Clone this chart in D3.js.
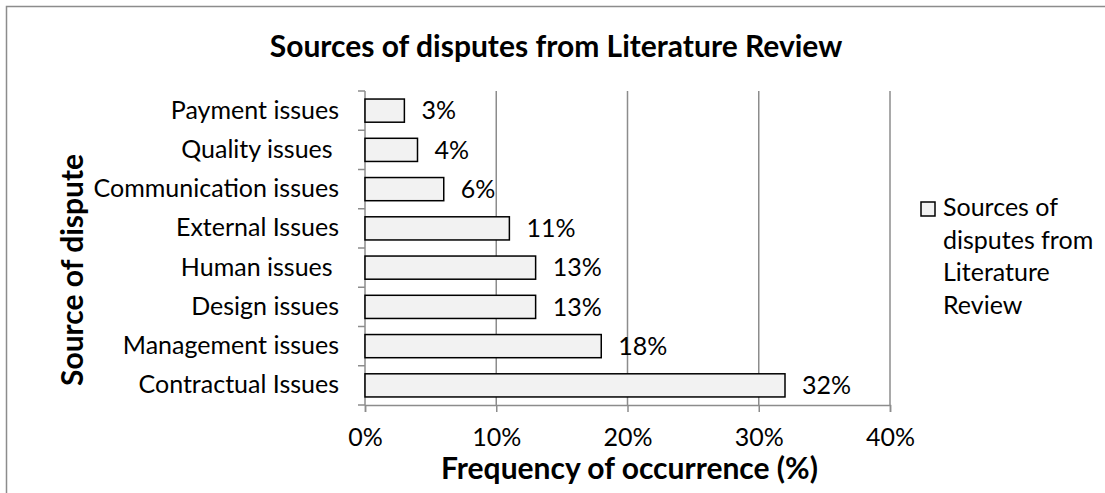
<!DOCTYPE html>
<html lang="en">
<head>
<meta charset="UTF-8">
<title>Sources of disputes</title>
<script src="https://d3js.org/d3.v7.min.js"></script>
<style>
  body { margin: 0; background: #fff; }
  text { font-family: Lato, "Open Sans", sans-serif; fill: #000; }
</style>
</head>
<body>
<div id="chart"></div>
<script>
// data, top row first
const categories = ["Payment issues", "Quality issues ", "Communication issues", "External Issues",
                    "Human issues ", "Design issues", "Management issues", "Contractual Issues"];
const values = [0.03, 0.04, 0.06, 0.11, 0.13, 0.13, 0.18, 0.32];
const xTicks = [0, 0.1, 0.2, 0.3, 0.4];
const seriesName = "Sources of disputes from Literature Review";

const W = 1105, H = 493;
const plot = { left: 365, right: 890, top: 91, bottom: 405 };

const svg = d3.select("#chart").append("svg")
    .attr("width", W).attr("height", H);

// chart area border (runs off the right / bottom edge)
svg.append("rect")
    .attr("x", 6.5).attr("y", 6.5)
    .attr("width", W + 20).attr("height", H + 20)
    .attr("fill", "#fff").attr("stroke", "#8c8c8c").attr("stroke-width", 1.5);

const x = d3.scaleLinear().domain([0, 0.4]).range([plot.left, plot.right]);
const pad = 0.41;
const y = d3.scaleBand().domain(categories)
    .range([plot.top, plot.bottom])
    .paddingInner(pad).paddingOuter(pad / 2);

// vertical gridlines
svg.append("g").selectAll("line")
    .data(xTicks.slice(1))
    .join("line")
    .attr("x1", d => x(d)).attr("x2", d => x(d))
    .attr("y1", plot.top).attr("y2", plot.bottom)
    .attr("stroke", "#8c8c8c").attr("stroke-width", 1.5);

// x axis
const xAxis = svg.append("g")
    .attr("transform", `translate(0,${plot.bottom})`)
    .call(d3.axisBottom(x).tickValues(xTicks).tickFormat(d3.format(".0%")).tickSize(7).tickPadding(16));
xAxis.select(".domain").attr("stroke", "#8c8c8c").attr("stroke-width", 1.5);
xAxis.selectAll(".tick line").attr("stroke", "#8c8c8c").attr("stroke-width", 1.5);
xAxis.selectAll(".tick text").attr("font-size", 25).attr("font-family", "Lato");

// y axis
const yAxis = svg.append("g")
    .attr("transform", `translate(${plot.left},0)`)
    .call(d3.axisLeft(y).tickSize(0).tickPadding(26));
yAxis.select(".domain").remove();
yAxis.selectAll(".tick text").attr("font-size", 25).attr("font-family", "Lato")
    .style("white-space", "pre");

svg.append("line")
    .attr("x1", plot.left).attr("x2", plot.left)
    .attr("y1", plot.top).attr("y2", plot.bottom)
    .attr("stroke", "#8c8c8c").attr("stroke-width", 1.5);
svg.append("g").selectAll("line")
    .data(d3.range(categories.length + 1))
    .join("line")
    .attr("x1", plot.left - 7).attr("x2", plot.left)
    .attr("y1", i => plot.top + i * y.step()).attr("y2", i => plot.top + i * y.step())
    .attr("stroke", "#8c8c8c").attr("stroke-width", 1.5);

// bars
svg.append("g").selectAll("rect")
    .data(categories)
    .join("rect")
    .attr("x", x(0))
    .attr("y", d => y(d))
    .attr("width", (d, i) => x(values[i]) - x(0))
    .attr("height", y.bandwidth())
    .attr("fill", "#f2f2f2").attr("stroke", "#000").attr("stroke-width", 1.5);

// value labels
svg.append("g").selectAll("text")
    .data(categories)
    .join("text")
    .attr("x", (d, i) => x(values[i]) + 17)
    .attr("y", d => y(d) + y.bandwidth() / 2)
    .attr("dy", "0.35em")
    .attr("font-size", 25)
    .text((d, i) => d3.format(".0%")(values[i]));

// title
svg.append("text")
    .attr("x", 556).attr("y", 57)
    .attr("text-anchor", "middle")
    .attr("font-size", 30).attr("font-weight", "bold")
    .text(seriesName);

// axis titles
svg.append("text")
    .attr("x", (plot.left + plot.right) / 2 + 2).attr("y", 479)
    .attr("text-anchor", "middle")
    .attr("font-size", 30).attr("font-weight", "bold")
    .text("Frequency of occurrence (%)");

svg.append("text")
    .attr("transform", "translate(83,270) rotate(-90)")
    .attr("text-anchor", "middle")
    .attr("font-size", 30).attr("font-weight", "bold")
    .text("Source of dispute");

// legend
const lg = svg.append("g").attr("transform", "translate(921,202)");
lg.append("rect")
    .attr("width", 14).attr("height", 14)
    .attr("fill", "#f2f2f2").attr("stroke", "#000").attr("stroke-width", 1.5);
lg.append("text")
    .attr("x", 22).attr("y", 14)
    .attr("font-size", 25)
    .selectAll("tspan")
    .data(["Sources of", "disputes from", "Literature", "Review"])
    .join("tspan")
    .attr("x", 22)
    .attr("dy", (d, i) => i === 0 ? 0 : 32.5)
    .text(d => d);
</script>
</body>
</html>
